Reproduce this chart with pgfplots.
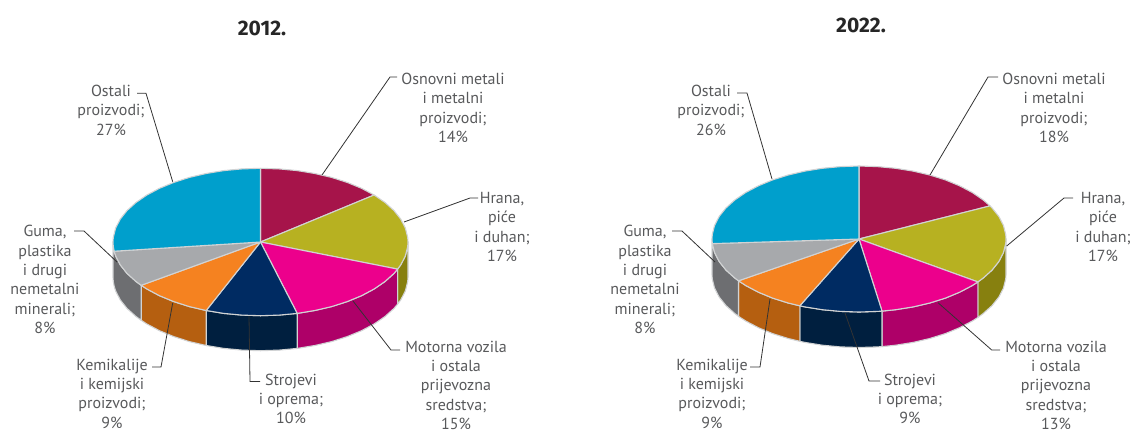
\documentclass[border=0pt]{standalone}
\usepackage{fontspec}
\setmainfont{PT Sans}
\newfontfamily\titlefont{Fira Sans}
\usepackage{pgfplots}
\pgfplotsset{compat=1.18}
\definecolor{cA}{HTML}{A6144A}
\definecolor{cB}{HTML}{B7B121}
\definecolor{cC}{HTML}{EC008C}
\definecolor{cD}{HTML}{002B62}
\definecolor{cE}{HTML}{F58220}
\definecolor{cF}{HTML}{A7A9AC}
\definecolor{cG}{HTML}{009FCC}
\definecolor{wB}{HTML}{87800F}
\definecolor{wC}{HTML}{AE0068}
\definecolor{wD}{HTML}{001F3F}
\definecolor{wE}{HTML}{B55F10}
\definecolor{wF}{HTML}{6D6E71}
\definecolor{edge}{HTML}{D1D3D4}
\definecolor{lead}{HTML}{333333}
\definecolor{txt}{HTML}{58595B}
\pgfplotsset{
 wedge/.style={fill=#1,draw=edge,line width=1.1pt,line join=round},
 leader/.style={draw=lead,line width=0.8pt,line join=miter},
}
\tikzset{lab/.style={anchor=north,inner sep=0pt,align=center,text=txt,font=\fontsize{16}{19.4}\selectfont},
 ttl/.style={anchor=center,inner sep=0pt,text=black!85,font=\titlefont\bfseries\fontsize{21}{22}\selectfont}}
\begin{document}
\begin{tikzpicture}
\useasboundingbox (0,0) rectangle (1132pt,432pt);
\begin{axis}[at={(0,0)},anchor=south west,scale only axis,width=1132pt,height=432pt,hide axis,xmin=0,xmax=1132,ymin=0,ymax=432,y dir=reverse,clip=false]
% ---------- 2012 walls
\addplot[wedge=wB] coordinates {(408,242)(407.7,246.6)(405.4,255.8)(400.8,264.8)(397.6,269.1)(397.6,304.1)(400.8,299.8)(405.4,290.8)(407.7,281.6)(408,277)} -- cycle;
\addplot[wedge=wC] coordinates {(397.6,269.1)(394,273.4)(385,281.5)(374.1,289)(361.5,295.7)(347.2,301.6)(331.6,306.6)(314.8,310.5)(297.2,313.4)(297.2,348.4)(314.8,345.5)(331.6,341.6)(347.2,336.6)(361.5,330.7)(374.1,324)(385,316.5)(394,308.4)(397.6,304.1)} -- cycle;
\addplot[wedge=wD] coordinates {(297.2,313.4)(279,315.1)(260.5,315.7)(242,315.1)(223.8,313.4)(206.2,310.5)(206.2,345.5)(223.8,348.4)(242,350.1)(260.5,350.7)(279,350.1)(297.2,348.4)} -- cycle;
\addplot[wedge=wE] coordinates {(206.2,310.5)(189.4,306.6)(173.8,301.6)(159.5,295.7)(146.9,289)(141.2,285.3)(141.2,320.3)(146.9,324)(159.5,330.7)(173.8,336.6)(189.4,341.6)(206.2,345.5)} -- cycle;
\addplot[wedge=wF] coordinates {(141.2,285.3)(136,281.5)(127,273.4)(120.2,264.8)(115.6,255.8)(114.2,251.2)(113.3,246.6)(113,242)(113,277)(113.3,281.6)(114.2,286.2)(115.6,290.8)(120.2,299.8)(127,308.4)(136,316.5)(141.2,320.3)} -- cycle;
% ---------- 2012 top
\addplot[wedge=cA] coordinates {(260.5,242)(260.5,168.3)(279,168.9)(297.2,170.6)(314.8,173.5)(331.6,177.4)(347.2,182.4)(361.5,188.3)(374.1,195)} -- cycle;
\addplot[wedge=cB] coordinates {(260.5,242)(374.1,195)(385,202.5)(394,210.6)(400.8,219.2)(405.4,228.2)(407.7,237.4)(408,242)(407.7,246.6)(405.4,255.8)(400.8,264.8)(397.6,269.1)} -- cycle;
\addplot[wedge=cC] coordinates {(260.5,242)(397.6,269.1)(394,273.4)(385,281.5)(374.1,289)(361.5,295.7)(347.2,301.6)(331.6,306.6)(314.8,310.5)(297.2,313.4)} -- cycle;
\addplot[wedge=cD] coordinates {(260.5,242)(297.2,313.4)(279,315.1)(260.5,315.7)(242,315.1)(223.8,313.4)(206.2,310.5)} -- cycle;
\addplot[wedge=cE] coordinates {(260.5,242)(206.2,310.5)(189.4,306.6)(173.8,301.6)(159.5,295.7)(146.9,289)(141.2,285.3)} -- cycle;
\addplot[wedge=cF] coordinates {(260.5,242)(141.2,285.3)(136,281.5)(127,273.4)(120.2,264.8)(115.6,255.8)(114.2,251.2)} -- cycle;
\addplot[wedge=cG] coordinates {(260.5,242)(114.2,251.2)(113.3,246.6)(113,242)(113.3,237.4)(115.6,228.2)(120.2,219.2)(127,210.6)(136,202.5)(146.9,195)(159.5,188.3)(173.8,182.4)(189.4,177.4)(206.2,173.5)(223.8,170.6)(242,168.9)(260.5,168.3)} -- cycle;
% ---------- 2012 leaders
\addplot[leader] coordinates {(322,175)(390,77)(397,77)};
\addplot[leader] coordinates {(404,222)(470,198)(478,198)};
\addplot[leader] coordinates {(353,301)(391,350)(400,350)};
\addplot[leader] coordinates {(249,316)(250,381.5)(260,381.5)};
\addplot[leader] coordinates {(172.7,303)(161,367)(152,367)};
\addplot[leader] coordinates {(117,262)(84,231)(74,231)};
\addplot[leader] coordinates {(172.7,181.7)(146,93.3)(137,93.3)};
% ---------- 2022 walls
\addplot[wedge=wB] coordinates {(1006,239)(1005.7,243.6)(1003.4,252.7)(998.8,261.6)(992,270.1)(983.1,278.1)(977.9,281.9)(977.9,317.4)(983.1,313.6)(992,305.6)(998.8,297.1)(1003.4,288.2)(1005.7,279.1)(1006,274.5)} -- cycle;
\addplot[wedge=wC] coordinates {(977.9,281.9)(972.3,285.5)(959.6,292.2)(945.4,298.1)(929.8,303)(913.1,306.9)(895.6,309.7)(882,311.1)(882,346.6)(895.6,345.2)(913.1,342.4)(929.8,338.5)(945.4,333.6)(959.6,327.7)(972.3,321)(977.9,317.4)} -- cycle;
\addplot[wedge=wD] coordinates {(882,311.1)(877.4,311.4)(859,312)(840.6,311.4)(822.4,309.7)(804.9,306.9)(799.8,305.8)(799.8,341.3)(804.9,342.4)(822.4,345.2)(840.6,346.9)(859,347.5)(877.4,346.9)(882,346.6)} -- cycle;
\addplot[wedge=wE] coordinates {(799.8,305.8)(788.2,303)(772.6,298.1)(758.4,292.2)(745.7,285.5)(738.5,280.8)(738.5,316.3)(745.7,321)(758.4,327.7)(772.6,333.6)(788.2,338.5)(799.8,341.3)} -- cycle;
\addplot[wedge=wF] coordinates {(738.5,280.8)(734.9,278.1)(726,270.1)(719.2,261.6)(714.6,252.7)(712.3,243.6)(712,239)(712,274.5)(712.3,279.1)(714.6,288.2)(719.2,297.1)(726,305.6)(734.9,313.6)(738.5,316.3)} -- cycle;
% ---------- 2022 top
\addplot[wedge=cA] coordinates {(859,239)(859,166)(877.4,166.6)(895.6,168.3)(913.1,171.1)(929.8,175)(945.4,179.9)(959.6,185.8)(972.3,192.5)(983.1,199.9)(990,205.9)} -- cycle;
\addplot[wedge=cB] coordinates {(859,239)(990,205.9)(992,207.9)(998.8,216.4)(1003.4,225.3)(1005.7,234.4)(1006,239)(1005.7,243.6)(1003.4,252.7)(998.8,261.6)(992,270.1)(983.1,278.1)(977.9,281.9)} -- cycle;
\addplot[wedge=cC] coordinates {(859,239)(977.9,281.9)(972.3,285.5)(959.6,292.2)(945.4,298.1)(929.8,303)(913.1,306.9)(895.6,309.7)(882,311.1)} -- cycle;
\addplot[wedge=cD] coordinates {(859,239)(882,311.1)(877.4,311.4)(859,312)(840.6,311.4)(822.4,309.7)(804.9,306.9)(799.8,305.8)} -- cycle;
\addplot[wedge=cE] coordinates {(859,239)(799.8,305.8)(788.2,303)(772.6,298.1)(758.4,292.2)(745.7,285.5)(738.5,280.8)} -- cycle;
\addplot[wedge=cF] coordinates {(859,239)(738.5,280.8)(734.9,278.1)(726,270.1)(719.2,261.6)(714.6,252.7)(712.3,243.6)} -- cycle;
\addplot[wedge=cG] coordinates {(859,239)(712.3,243.6)(712,239)(712.3,234.4)(714.6,225.3)(719.2,216.4)(726,207.9)(734.9,199.9)(745.7,192.5)(758.4,185.8)(772.6,179.9)(788.2,175)(804.9,171.1)(822.4,168.3)(840.6,166.6)(859,166)} -- cycle;
% ---------- 2022 leaders
\addplot[leader] coordinates {(930,175)(988,77)(998,77)};
\addplot[leader] coordinates {(1006.7,246)(1064,198)(1073,198)};
\addplot[leader] coordinates {(938,302.7)(991.7,350)(1000,350)};
\addplot[leader] coordinates {(845,313)(869,381)(880,381)};
\addplot[leader] coordinates {(770,299)(760,367)(750,367)};
\addplot[leader] coordinates {(715,262)(682,231)(672,231)};
\addplot[leader] coordinates {(772,179)(747,93)(737,93)};
% ---------- text 2012
\node[ttl] at (axis cs:262,28) {2012.};
\node[lab] at (axis cs:453,73) {Osnovni metali\\i metalni\\proizvodi;\\14\%};
\node[lab] at (axis cs:502,192) {Hrana,\\piće\\i duhan;\\17\%};
\node[lab] at (axis cs:456,340.5) {Motorna vozila\\i ostala\\prijevozna\\sredstva;\\15\%};
\node[lab] at (axis cs:291,373.5) {Strojevi\\i oprema;\\10\%};
\node[lab] at (axis cs:112,358.5) {Kemikalije\\i kemijski\\proizvodi;\\9\%};
\node[lab] at (axis cs:45,225) {Guma,\\plastika\\i drugi\\nemetalni\\minerali;\\8\%};
\node[lab] at (axis cs:111,85) {Ostali\\proizvodi;\\27\%};
% ---------- text 2022
\node[ttl] at (axis cs:861,25) {2022.};
\node[lab] at (axis cs:1054,73) {Osnovni metali\\i metalni\\proizvodi;\\18\%};
\node[lab] at (axis cs:1103,192) {Hrana,\\piće\\i duhan;\\17\%};
\node[lab] at (axis cs:1056,340.5) {Motorna vozila\\i ostala\\prijevozna\\sredstva;\\13\%};
\node[lab] at (axis cs:910,373.5) {Strojevi\\i oprema;\\9\%};
\node[lab] at (axis cs:712,358.5) {Kemikalije\\i kemijski\\proizvodi;\\9\%};
\node[lab] at (axis cs:645,225) {Guma,\\plastika\\i drugi\\nemetalni\\minerali;\\8\%};
\node[lab] at (axis cs:711,85) {Ostali\\proizvodi;\\26\%};
\end{axis}
\end{tikzpicture}
\end{document}
